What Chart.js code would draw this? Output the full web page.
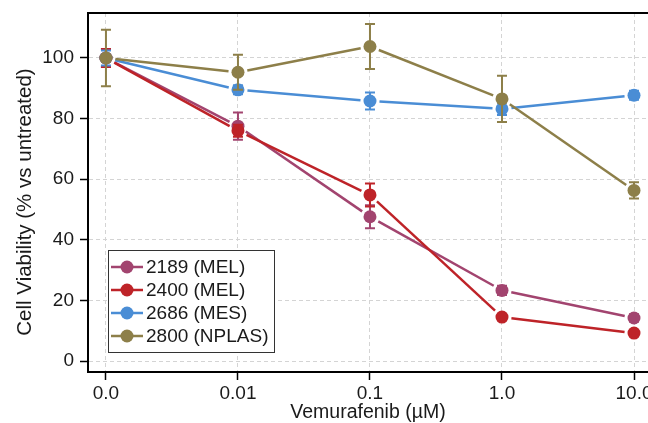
<!DOCTYPE html>
<html>
<head>
<meta charset="utf-8">
<script src="https://cdn.jsdelivr.net/npm/chart.js@4"></script>
<style>
  html, body { margin: 0; padding: 0; background: #fff; }
  #wrap { width: 648px; height: 423px; position: relative; }
</style>
</head>
<body>
<div id="wrap"><canvas id="c" width="648" height="423"></canvas></div>
<script>
// ---- data ----
const doseLabels = ['0.0', '0.01', '0.1', '1.0', '10.0'];
const yTicks = [0, 20, 40, 60, 80, 100];
const seriesNames = ['2189 (MEL)', '2400 (MEL)', '2686 (MES)', '2800 (NPLAS)'];
const colors = ['#A2446F', '#BE2328', '#4A8DD5', '#8D7F49'];
const v2189 = [100, 77.5, 47.6, 23.3, 14.2];
const e2189 = [3.0, 4.5, 3.8, 1.5, 1.2];
const v2400 = [100, 76.0, 54.8, 14.5, 9.2];
const e2400 = [3.0, 2.0, 3.8, 0.8, 0.8];
const v2686 = [100, 89.5, 85.8, 83.2, 87.7];
const e2686 = [2.5, 1.5, 2.8, 2.0, 1.5];
const v2800 = [100, 95.3, 103.8, 86.5, 56.3];
const e2800 = [9.3, 5.8, 7.4, 7.6, 2.7];
const xTitle = 'Vemurafenib (µM)';
const yTitle = 'Cell Viability (% vs untreated)';

const values = [v2189, v2400, v2686, v2800];
const errors = [e2189, e2400, e2686, e2800];

const FONT = "'Liberation Sans', Arial, Helvetica, sans-serif";
const FS = 19;

const datasets = values.map((vals, i) => ({
  label: seriesNames[i],
  data: vals.map((v, j) => ({ x: j, y: v })),
  showLine: false,
  borderColor: colors[i],
  backgroundColor: colors[i],
  pointBackgroundColor: colors[i],
  pointBorderColor: colors[i],
  pointBorderWidth: 0,
  pointRadius: 6.5,
  pointHoverRadius: 6.5,
  order: 4 - i,
  errors: errors[i]
}));

// lines with gaps near markers, drawn from the scale-positioned points
const gapLines = {
  id: 'gapLines',
  beforeDatasetDraw(chart, args) {
    const meta = chart.getDatasetMeta(args.index);
    const pts = meta.data;
    const ctx = chart.ctx;
    const gap = 9.5;
    ctx.save();
    ctx.strokeStyle = colors[args.index];
    ctx.lineWidth = 2.5;
    ctx.lineCap = 'butt';
    for (let k = 0; k < pts.length - 1; k++) {
      const a = pts[k], b = pts[k + 1];
      const dx = b.x - a.x, dy = b.y - a.y;
      const L = Math.hypot(dx, dy);
      if (L <= 2 * gap) continue;
      const ux = dx / L, uy = dy / L;
      ctx.beginPath();
      ctx.moveTo(a.x + ux * gap, a.y + uy * gap);
      ctx.lineTo(b.x - ux * gap, b.y - uy * gap);
      ctx.stroke();
    }
    ctx.restore();
  },
  afterDatasetDraw(chart, args) {
    const meta = chart.getDatasetMeta(args.index);
    const ds = chart.data.datasets[args.index];
    const ys = chart.scales.y;
    const ctx = chart.ctx;
    ctx.save();
    ctx.strokeStyle = colors[args.index];
    ctx.lineWidth = 2;
    meta.data.forEach((p, j) => {
      const v = ds.data[j].y, e = ds.errors[j];
      const yt = ys.getPixelForValue(v + e);
      const yb = ys.getPixelForValue(v - e);
      ctx.beginPath();
      ctx.moveTo(p.x, yt); ctx.lineTo(p.x, yb);
      ctx.moveTo(p.x - 5, yt); ctx.lineTo(p.x + 5, yt);
      ctx.moveTo(p.x - 5, yb); ctx.lineTo(p.x + 5, yb);
      ctx.stroke();
    });
    ctx.restore();
  }
};

const frameAndLegend = {
  id: 'frameAndLegend',
  afterDraw(chart) {
    const ctx = chart.ctx;
    const ca = chart.chartArea;
    ctx.save();
    // top frame line
    ctx.strokeStyle = '#000';
    ctx.lineWidth = 2;
    ctx.beginPath();
    ctx.moveTo(ca.left - 1, ca.top);
    ctx.lineTo(chart.width, ca.top);
    ctx.stroke();

    // y axis title
    ctx.save();
    ctx.translate(25.5, 202);
    ctx.rotate(-Math.PI / 2);
    ctx.font = '20.5px ' + FONT;
    ctx.fillStyle = '#1a1a1a';
    ctx.textAlign = 'center';
    ctx.textBaseline = 'middle';
    ctx.fillText(yTitle, 0, 0);
    ctx.restore();

    // legend
    const bx = 108.5, by = 250.5, bw = 166, bh = 102;
    ctx.fillStyle = '#fff';
    ctx.fillRect(bx, by, bw, bh);
    ctx.strokeStyle = '#333';
    ctx.lineWidth = 1;
    ctx.strokeRect(bx, by, bw, bh);
    ctx.font = FS + 'px ' + FONT;
    ctx.textBaseline = 'middle';
    ctx.textAlign = 'left';
    seriesNames.forEach((name, i) => {
      const cy = 267 + i * 23;
      ctx.strokeStyle = colors[i];
      ctx.lineWidth = 2.5;
      ctx.beginPath();
      ctx.moveTo(111, cy); ctx.lineTo(143, cy);
      ctx.stroke();
      ctx.fillStyle = colors[i];
      ctx.beginPath();
      ctx.arc(127, cy, 6.5, 0, Math.PI * 2);
      ctx.fill();
      ctx.fillStyle = '#1a1a1a';
      ctx.fillText(name, 146, cy + 1);
    });
    ctx.restore();
  }
};

new Chart(document.getElementById('c'), {
  type: 'scatter',
  data: { datasets },
  plugins: [gapLines, frameAndLegend],
  options: {
    responsive: false,
    animation: false,
    events: [],
    layout: { autoPadding: false, padding: { top: 13, left: 0, right: 0, bottom: 0 } },
    plugins: { legend: { display: false }, tooltip: { enabled: false } },
    scales: {
      x: {
        type: 'linear',
        min: -0.136,
        max: 4.106,
        afterBuildTicks(s) { s.ticks = doseLabels.map((_, i) => ({ value: i })); },
        afterFit(s) { s.height = 51; s.paddingLeft = 0; s.paddingRight = 0; },
        ticks: {
          callback: (v) => doseLabels[v] ?? '',
          font: { size: FS, family: FONT },
          color: '#1a1a1a',
          padding: 2,
          maxRotation: 0,
          autoSkip: false
        },
        grid: {
          color: '#d4d4d4',
          lineWidth: 1,
          tickColor: '#000',
          tickLength: 8,
          tickWidth: 1.5
        },
        border: { display: true, color: '#000', width: 2, dash: [4, 3] },
        title: {
          display: true,
          text: xTitle,
          font: { size: 19.5, family: FONT, lineHeight: 1.1 },
          color: '#1a1a1a',
          padding: { top: 0, bottom: 0 }
        }
      },
      y: {
        type: 'linear',
        min: -3.63,
        max: 114.85,
        afterBuildTicks(s) { s.ticks = yTicks.map(v => ({ value: v })); },
        afterFit(s) { s.width = 88; s.paddingTop = 0; s.paddingBottom = 0; },
        ticks: {
          font: { size: FS, family: FONT },
          color: '#1a1a1a',
          padding: 6
        },
        grid: {
          color: '#d4d4d4',
          lineWidth: 1,
          tickColor: '#000',
          tickLength: 8,
          tickWidth: 1.5
        },
        border: { display: true, color: '#000', width: 2, dash: [4, 3] },
        title: { display: false }
      }
    }
  }
});
</script>
</body>
</html>
